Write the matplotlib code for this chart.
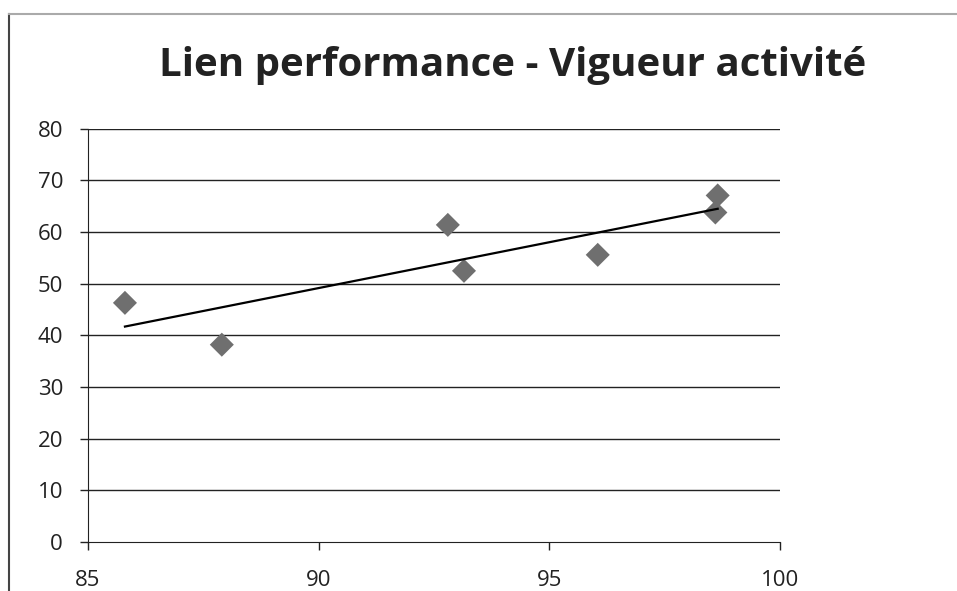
import numpy as np
import matplotlib
matplotlib.use('Agg')
import matplotlib.pyplot as plt
from matplotlib.lines import Line2D

# valeurs
performance = [85.8, 87.9, 92.8, 93.15, 96.05, 98.6, 98.65]
vigueur = [46.3, 38.2, 61.4, 52.5, 55.6, 63.8, 67.1]
x_ticks = [85, 90, 95, 100]
y_ticks = [0, 10, 20, 30, 40, 50, 60, 70, 80]
titre = 'Lien performance - Vigueur activité'

plt.rcParams['font.family'] = ['Open Sans', 'DejaVu Sans']

fig = plt.figure(figsize=(9.57, 5.91), dpi=100)
ax = fig.add_axes([0.092, 0.083, 0.723, 0.699])

# grille horizontale
for y in y_ticks[1:]:
    ax.axhline(y, color='#222222', lw=1.0, zorder=1)

ax.scatter(performance, vigueur, marker='D', s=150, color='#6f6f6f',
           edgecolors='none', zorder=3)

# courbe de tendance linéaire
a, b = np.polyfit(performance, vigueur, 1)
xs = np.array([min(performance), max(performance)])
ax.plot(xs, a * xs + b, color='black', lw=1.6, zorder=4)

ax.set_xlim(85, 100)
ax.set_ylim(0, 80)
ax.set_xticks(x_ticks)
ax.set_yticks(y_ticks)
ax.tick_params(labelsize=16, colors='#222222', length=6, width=1)
ax.tick_params(axis='y', pad=12)
ax.tick_params(axis='x', pad=14)
for s in ['top', 'right']:
    ax.spines[s].set_visible(False)
for s in ['left', 'bottom']:
    ax.spines[s].set_color('#222222')

fig.text(0.5355, 0.89, titre, ha='center', va='center', fontsize=29,
         fontweight='bold', color='#222222')

# cadre du graphique (bord gauche et haut)
fig.add_artist(Line2D([0.009, 0.009], [0.0, 0.977], transform=fig.transFigure,
                      color='#444444', lw=1.5))
fig.add_artist(Line2D([0.009, 1.0], [0.977, 0.977], transform=fig.transFigure,
                      color='#aaaaaa', lw=1.5))

fig.savefig('out.png', dpi=100)
